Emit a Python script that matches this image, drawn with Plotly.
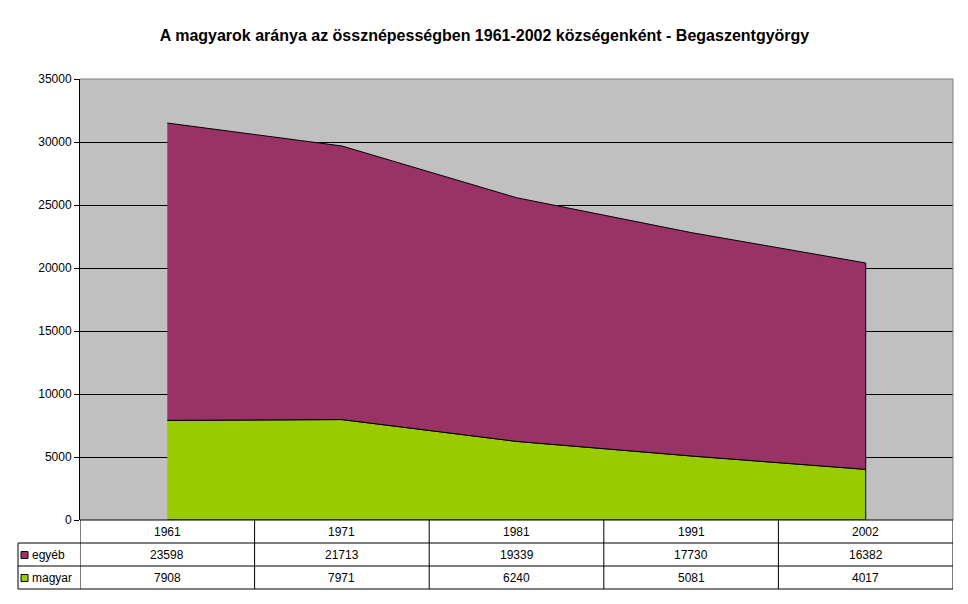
import plotly.graph_objects as go

years = ["1961", "1971", "1981", "1991", "2002"]
egyeb = [23598, 21713, 19339, 17730, 16382]
magyar = [7908, 7971, 6240, 5081, 4017]

title = "A magyarok aránya az össznépességben 1961-2002 községenként - Begaszentgyörgy"
series_names = ["egyéb", "magyar"]
series_colors = ["#993366", "#99CC00"]

# the page body adds an 8px margin, so the figure is 16px smaller than the window
OFF = 8
W, H = 968 - 2 * OFF, 604 - 2 * OFF
L, T = 80 - OFF, 79 - OFF          # plot area top-left in page px minus offset
PW, PH = 953 - 80, 520 - 79
R, B = W - L - PW, H - T - PH
FONT = "Liberation Sans, Arial, sans-serif"


def py(page_y):
    # page pixel row -> paper y
    return (T + PH - (page_y - OFF)) / PH


def px(page_x):
    return (page_x - OFF - L) / PW


total = [m + e for m, e in zip(magyar, egyeb)]

fig = go.Figure()
# green area (magyar), closed polygon down to zero
fig.add_trace(go.Scatter(
    x=years + years[::-1], y=magyar + [0] * len(years),
    fill="toself", fillcolor=series_colors[1], mode="lines",
    line=dict(color="black", width=1), hoverinfo="skip", showlegend=False))
# purple area (egyéb) stacked on top
fig.add_trace(go.Scatter(
    x=years + years[::-1], y=total + magyar[::-1],
    fill="toself", fillcolor=series_colors[0], mode="lines",
    line=dict(color="black", width=1), hoverinfo="skip", showlegend=False))

shapes = []
annots = []

# plot frame: gray top / right
shapes.append(dict(type="line", xref="paper", yref="paper", x0=0, x1=1, y0=1, y1=1,
                   line=dict(color="#808080", width=1)))
shapes.append(dict(type="line", xref="paper", yref="paper", x0=1, x1=1, y0=0, y1=1,
                   line=dict(color="#808080", width=1)))

# data table grid
row_y = [520, 543, 566, 589]
shapes.append(dict(type="line", xref="paper", yref="paper", x0=0, x1=1,
                   y0=py(row_y[0]), y1=py(row_y[0]), line=dict(color="black", width=1)))
for ry in row_y[1:]:
    shapes.append(dict(type="line", xref="paper", yref="paper", x0=px(18), x1=1,
                       y0=py(ry), y1=py(ry), line=dict(color="black", width=1)))
shapes.append(dict(type="line", xref="paper", yref="paper", x0=px(18), x1=px(18),
                   y0=py(row_y[1]), y1=py(row_y[3]), line=dict(color="black", width=1)))
for i in range(len(years) + 1):
    shapes.append(dict(type="line", xref="x", yref="paper", x0=i - 0.5, x1=i - 0.5,
                       y0=py(row_y[0]), y1=py(row_y[3]), line=dict(color="black", width=1)))

# table text
for i, yr in enumerate(years):
    annots.append(dict(x=i, y=py((row_y[0] + row_y[1]) / 2), xref="x", yref="paper",
                       text=yr, showarrow=False, yanchor="middle"))
    for r, vals in enumerate([egyeb, magyar]):
        annots.append(dict(x=i, y=py((row_y[r + 1] + row_y[r + 2]) / 2), xref="x", yref="paper",
                           text=str(vals[i]), showarrow=False, yanchor="middle"))

# legend keys in the table
for r, (name, col) in enumerate(zip(series_names, series_colors)):
    cy = (row_y[r + 1] + row_y[r + 2]) / 2
    shapes.append(dict(type="rect", xref="paper", yref="paper",
                       x0=px(21), x1=px(28), y0=py(cy + 4), y1=py(cy - 3),
                       fillcolor=col, line=dict(color="black", width=1)))
    annots.append(dict(x=px(30), y=py(cy), xref="paper", yref="paper", text=name,
                       showarrow=False, xanchor="left", yanchor="middle"))

fig.update_layout(
    width=W, height=H,
    margin=dict(l=L, r=R, t=T, b=B),
    paper_bgcolor="white", plot_bgcolor="#C0C0C0",
    font=dict(family=FONT, size=12, color="black"),
    title=dict(text="<b>" + title + "</b>", x=(484.5 - OFF) / W, xanchor="center",
               xref="container", y=1 - (35 - OFF) / H,
               yanchor="middle", font=dict(size=16, family=FONT)),
    xaxis=dict(type="category", range=[-0.5, len(years) - 0.5], showticklabels=False,
               showgrid=False, zeroline=False, ticks="", fixedrange=True),
    yaxis=dict(range=[0, 35000], dtick=5000, tickformat="d", showgrid=True,
               gridcolor="black", gridwidth=1,
               zeroline=False, showline=True, linecolor="black", linewidth=1,
               ticks="outside", ticklen=5, tickcolor="black", tickfont=dict(size=12)),
    shapes=shapes, annotations=annots, showlegend=False,
)

fig.write_html("out.html")
